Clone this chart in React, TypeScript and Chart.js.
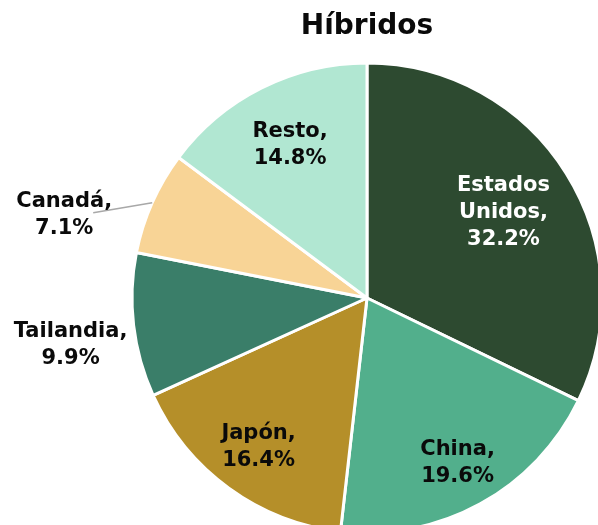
import React, { useEffect, useRef } from "react";
import { Chart, registerables } from "chart.js";

Chart.register(...registerables);

const titleText = "Híbridos";
const categories = ["Estados Unidos", "China", "Japón", "Tailandia", "Canadá", "Resto"];
const shares = [32.2, 19.6, 16.4, 9.9, 7.1, 14.8];
const labelLines = [
  ["Estados", "Unidos,", "32.2%"],
  ["China,", "19.6%"],
  ["Japón,", "16.4%"],
  ["Tailandia,", "9.9%"],
  ["Canadá,", "7.1%"],
  ["Resto,", "14.8%"],
];

// styling (not data)
const sliceColors = ["#2d4a30", "#52af8c", "#b58f29", "#3a7e69", "#f8d496", "#b1e7d2"];
const labelColors = ["#ffffff", "#0a0a0a", "#0a0a0a", "#0a0a0a", "#0a0a0a", "#0a0a0a"];
const labelRadius = [0.685, 0.8, 0.785, 1.27, 1.0, 0.73];
const labelShift = [[0, 0], [0, 0], [0, 0], [0, 12], [-88, 12], [0, 0]];
const leaderEnd: (null | number[])[] = [null, null, null, null, [-59, 10], null];

const FONT = '"DejaVu Sans", sans-serif';

const labelPlugin = {
  id: "sliceLabels",
  afterDatasetsDraw(chart: any) {
    const ctx = chart.ctx;
    const meta = chart.getDatasetMeta(0);
    meta.data.forEach((arc: any, i: number) => {
      const p = arc.getProps(["x", "y", "startAngle", "endAngle", "outerRadius"], true);
      const mid = (p.startAngle + p.endAngle) / 2;
      const ax = p.x + Math.cos(mid) * p.outerRadius * labelRadius[i];
      const ay = p.y + Math.sin(mid) * p.outerRadius * labelRadius[i];
      ctx.save();
      const le = leaderEnd[i];
      if (le) {
        ctx.strokeStyle = "#a8a8a8";
        ctx.lineWidth = 1.5;
        ctx.beginPath();
        ctx.moveTo(ax, ay);
        ctx.lineTo(ax + le[0], ay + le[1]);
        ctx.stroke();
      }
      const cx = ax + labelShift[i][0];
      const cy = ay + labelShift[i][1];
      const lines = labelLines[i];
      const lh = 27;
      ctx.font = `bold 21px ${FONT}`;
      ctx.fillStyle = labelColors[i];
      ctx.textAlign = "center";
      ctx.textBaseline = "middle";
      lines.forEach((t, k) => {
        ctx.fillText(t, cx, cy + (k - (lines.length - 1) / 2) * lh);
      });
      ctx.restore();
    });
  },
};

export default function App() {
  const ref = useRef<HTMLCanvasElement>(null);
  useEffect(() => {
    if (!ref.current) return;
    const chart = new Chart(ref.current, {
      type: "pie",
      data: {
        labels: categories,
        datasets: [
          {
            data: shares,
            backgroundColor: sliceColors,
            borderColor: "#ffffff",
            borderWidth: 3,
          },
        ],
      },
      options: {
        responsive: false,
        animation: false,
        layout: { padding: { left: 130.5, right: 130.5, top: 0, bottom: 61.5 } },
        plugins: {
          legend: { display: false },
          tooltip: { enabled: false },
          title: {
            display: true,
            text: titleText,
            color: "#0a0a0a",
            font: { family: FONT, size: 28, weight: "bold" },
            padding: { top: 10, bottom: 17.9 },
          },
        },
      },
      plugins: [labelPlugin],
    });
    return () => chart.destroy();
  }, []);
  return (
    <div
      style={{
        position: "absolute",
        left: 0,
        top: 0,
        width: 598,
        height: 525,
        overflow: "hidden",
        background: "#ffffff",
      }}
    >
      <canvas
        ref={ref}
        width={734}
        height={596}
        style={{ position: "absolute", left: 0, top: 0, width: 734, height: 596 }}
      />
    </div>
  );
}
